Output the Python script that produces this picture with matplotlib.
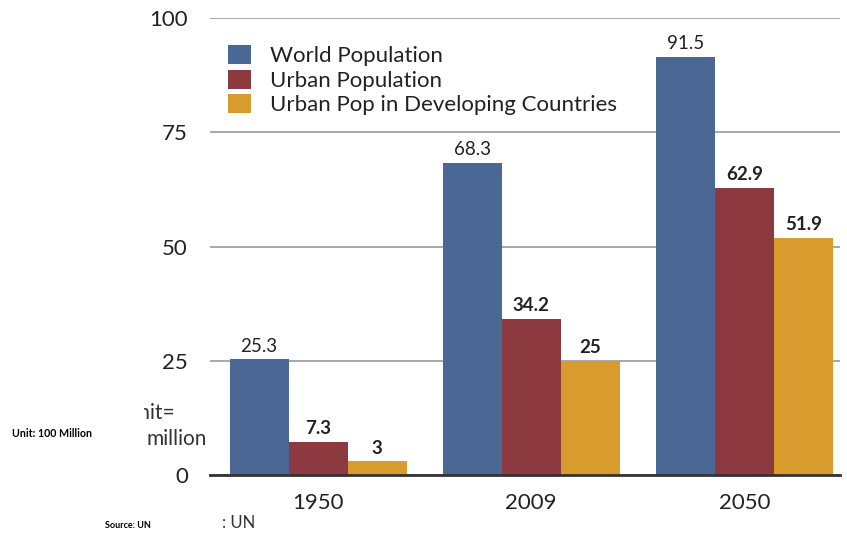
import numpy as np
import matplotlib.pyplot as plt
from matplotlib.patches import Rectangle

years = ["1950", "2009", "2050"]
world = [25.3, 68.3, 91.5]
urban = [7.3, 34.2, 62.9]
urban_dev = [3, 25, 51.9]
series_names = ["World Population", "Urban Population", "Urban Pop in Developing Countries"]
colors = ["#4b6895", "#8c3a40", "#d89c2e"]
yticks = [0, 25, 50, 75, 100]

plt.rcParams['font.family'] = ['Lato', 'DejaVu Sans']

fig = plt.figure(figsize=(8.47, 5.33), dpi=100)
ax = fig.add_axes([0.248, 0.109, 0.744, 0.857])

x = np.arange(len(years))
w = 0.277
series = [world, urban, urban_dev]
for i, (vals, name, c) in enumerate(zip(series, series_names, colors)):
    bars = ax.bar(x + (i - 1) * w, vals, w, color=c, label=name, zorder=3)
    weight = "normal" if i == 0 else "bold"
    for b, v in zip(bars, vals):
        ax.text(b.get_x() + b.get_width() / 2, v + 1.0, f"{v:g}", ha="center", va="bottom",
                fontsize=13.5, fontweight=weight, color="#222222")

ax.set_ylim(0, 100)
ax.set_xlim(-0.507, 2.45)
ax.set_yticks(yticks)
ax.set_yticklabels([str(t) for t in yticks], fontsize=16, color="#222222")
ax.set_xticks(x)
ax.set_xticklabels(years, fontsize=16, color="#222222")
ax.tick_params(axis="y", length=0, pad=16)
ax.tick_params(axis="x", length=0, pad=13)
ax.yaxis.grid(True, color="#9a9a9a", linewidth=1.2, zorder=0)
for s in ["top", "right", "left"]:
    ax.spines[s].set_visible(False)
ax.spines["bottom"].set_color("#333333")
ax.spines["bottom"].set_linewidth(2)
ax.spines["bottom"].set_zorder(4)

leg = ax.legend(loc="upper left", bbox_to_anchor=(0.003, 0.975), frameon=True, fontsize=16,
                handlelength=1.04, handleheight=0.95, handletextpad=0.87, labelspacing=0.15,
                borderaxespad=0.3, facecolor="white", edgecolor="white", framealpha=1)
for t in leg.get_texts():
    t.set_color("#222222")

# partly hidden unit note, as in the source image
fig.text(0.014, 0.186, "Unit: 100 Million", fontsize=7.7, fontweight="bold", ha="left", va="center")
fig.text(0.145, 0.225, "Unit=", fontsize=15, color="#333333", ha="left", va="center")
fig.text(0.1735, 0.176, "million", fontsize=15, color="#333333", ha="left", va="center")
fig.patches.append(Rectangle((0.120, 0.20), 0.0495, 0.07, transform=fig.transFigure,
                             facecolor="white", edgecolor="none", zorder=5))
fig.text(0.124, 0.015, "Source: UN", fontsize=6.5, fontweight="bold", ha="left", va="center")
fig.text(0.262, 0.019, ": UN", fontsize=12, color="#333333", ha="left", va="center")

fig.savefig("out.png", dpi=100)
